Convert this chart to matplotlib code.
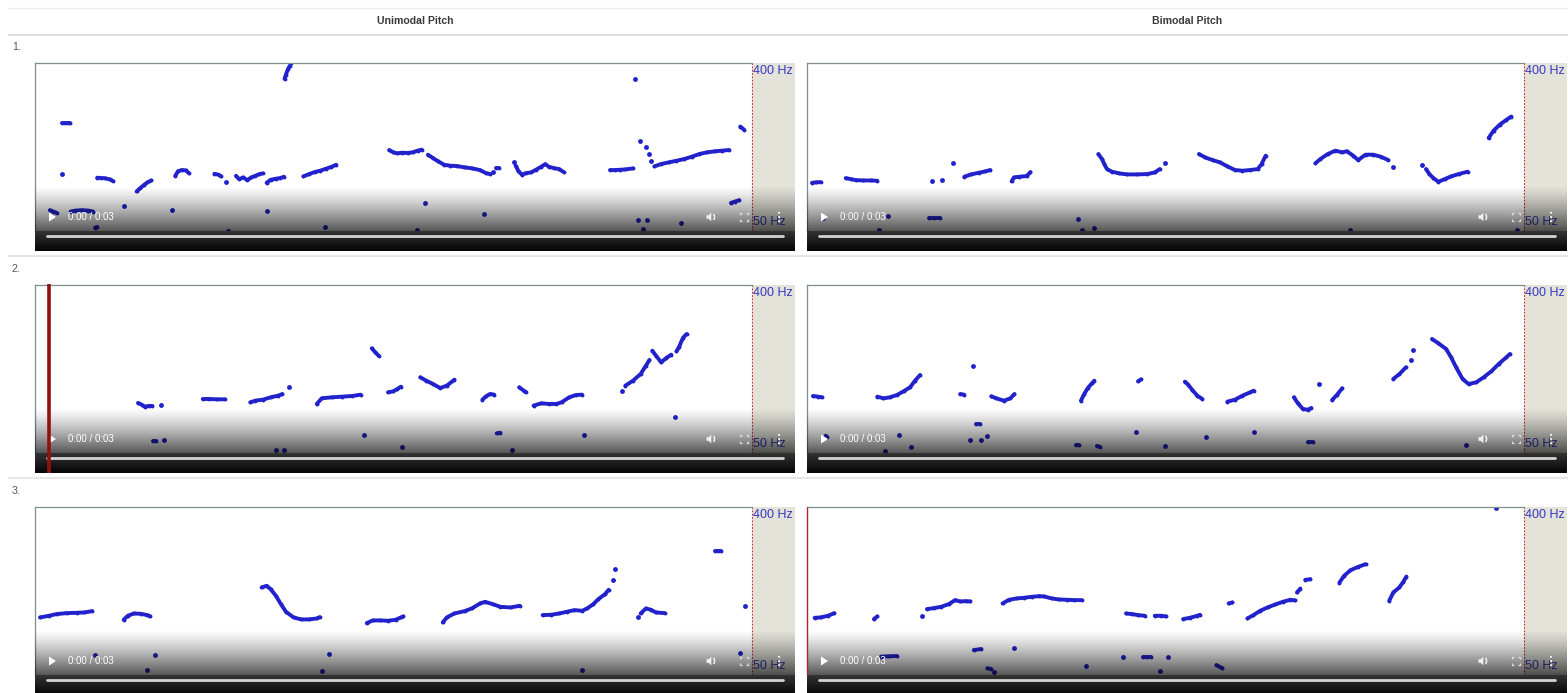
import numpy as np
import matplotlib
matplotlib.use("Agg")
import matplotlib.pyplot as plt
from matplotlib.patches import Polygon, Rectangle, Arc, Circle
from matplotlib.transforms import blended_transform_factory

plt.rcParams['font.family'] = ['Liberation Sans', 'DejaVu Sans']

# ---------------------------------------------------------------- text
columns = ["Unimodal Pitch", "Bimodal Pitch"]
row_labels = ["1.", "2.", "3."]
scale_labels = ["400 Hz", "50 Hz"]
time_label = "0:00 / 0:03"

pitch_range = [50, 400]   # Hz, bottom / top of each track
duration = 3.0            # s

# ---------------------------------------------------------------- f0 tracks
# each entry is one voiced stretch: (times in s, f0 in Hz)
uni_1 = [
    ([1.044, 1.050, 1.059, 1.065, 1.072], [367, 376, 388, 393, 399]),
    ([2.511], [366]),
    ([0.115, 0.126, 0.136, 0.147], [274, 274, 274, 274]),
    ([0.113], [169]),
    ([0.260, 0.277, 0.294, 0.312, 0.327], [161, 160.5, 159.8, 157.6, 154]),
    ([0.425, 0.440, 0.455, 0.470, 0.487], [132.3, 139.3, 145.6, 151.1, 155.3]),
    ([0.587, 0.598, 0.613, 0.630, 0.645], [165, 174.4, 177, 176.4, 170]),
    ([0.751, 0.768, 0.779], [169.3, 167.2, 163.7]),
    ([0.798], [151.8]),
    ([0.841, 0.854, 0.871, 0.888, 0.905, 0.922, 0.939, 0.952],
     [165, 158, 161.5, 156, 161.5, 165, 168.5, 170]),
    ([0.969, 0.986, 1.008, 1.025, 1.042], [150.5, 156.7, 158.9, 160.2, 163]),
    ([1.123, 1.147, 1.170, 1.193, 1.217, 1.238, 1.260],
     [163.7, 168.6, 172.8, 175.6, 179.7, 183.2, 188]),
    ([1.482, 1.499, 1.516, 1.537, 1.559, 1.580, 1.601, 1.618],
     [218.8, 213.9, 211.8, 213.2, 212.5, 213.9, 217.4, 219.5]),
    ([1.644, 1.665, 1.687, 1.712, 1.738, 1.766, 1.798, 1.830, 1.862, 1.887, 1.904],
     [209, 202, 195, 188, 186, 185.3, 182.5, 180.4, 176.9, 170.6, 168.6]),
    ([1.917], [172]),
    ([1.930, 1.943], [180.4, 180.4]),
    ([2.003], [193.6]),
    ([2.011, 2.022, 2.037, 2.054, 2.075, 2.096, 2.118, 2.135, 2.150, 2.171, 2.193, 2.212],
     [186, 175.6, 167.2, 170.6, 172, 177.6, 183.9, 189.4, 183.9, 181, 179, 172.8]),
    ([2.406, 2.427, 2.449, 2.470, 2.502], [177, 177, 177.6, 178.3, 180.4]),
    ([2.532], [236.9]), ([2.555], [224.3]), ([2.570], [210.4]), ([2.579], [196.4]),
    ([2.592, 2.619, 2.652, 2.684, 2.716, 2.748, 2.780, 2.812, 2.844, 2.876, 2.904],
     [184.6, 189.5, 193, 196.4, 199.9, 204.8, 210.4, 213.9, 216, 217.4, 218.8]),
    ([2.951, 2.968], [267.6, 260.6]),
    ([2.912, 2.929, 2.946], [108.6, 111.4, 114.2]),
    ([0.149, 0.171, 0.196, 0.222, 0.243], [90.5, 92.6, 93.3, 92.6, 90.5]),
    ([0.062, 0.077, 0.090], [93.3, 90.5, 87.8]),
    ([0.252, 0.260], [57, 58.4]),
    ([0.371], [101.6]), ([0.574], [93.3]), ([0.969], [92]), ([1.213], [58.4]),
    ([0.807], [50.5]), ([1.633], [108.6]), ([1.597], [52.9]), ([1.879], [86.3]),
    ([2.524], [73]), ([2.560], [73]), ([2.545], [54.3]), ([2.705], [66]),
]

bi_1 = [
    ([0.021, 0.036, 0.057], [150.5, 151.2, 151.9]),
    ([0.162, 0.183, 0.204, 0.235, 0.267, 0.294], [160.2, 158.1, 156, 155.3, 155.3, 154.6]),
    ([0.523], [154]), ([0.563], [156]), ([0.610], [191.6]),
    ([0.658, 0.687, 0.719, 0.746, 0.767], [163, 167.9, 171.4, 174.2, 177]),
    ([0.856, 0.866, 0.887, 0.919, 0.935], [153.3, 161.6, 163, 164.4, 172.8]),
    ([1.219, 1.234, 1.244, 1.255, 1.276, 1.307, 1.339, 1.381, 1.423, 1.455, 1.476],
     [210.4, 200, 189.5, 179, 173.5, 170, 167.9, 167.9, 168.6, 172, 179]),
    ([1.497], [190.9]),
    ([1.640, 1.665, 1.697, 1.728, 1.759, 1.791, 1.822, 1.854, 1.886, 1.902, 1.919],
     [210.4, 203.4, 197.8, 192.9, 184.6, 177, 175.6, 177, 179, 189.5, 206.9]),
    ([2.127, 2.148, 2.179, 2.211, 2.238, 2.259, 2.285, 2.306, 2.337, 2.369, 2.401, 2.432],
     [190.9, 200, 210.4, 217.4, 213.9, 216, 207, 197.8, 209, 209, 204.8, 197.8]),
    ([2.453], [182.5]),
    ([2.575], [188.1]),
    ([2.590, 2.604, 2.621, 2.642, 2.668, 2.695, 2.726, 2.764],
     [179, 168.6, 160.2, 152.6, 158.1, 163.7, 168.6, 173.5]),
    ([2.852, 2.873, 2.899, 2.926, 2.947], [243.9, 259.2, 271.8, 281.5, 288.5]),
    ([0.067], [76.6]), ([0.303], [52.9]), ([0.338], [80.8]),
    ([0.509, 0.530, 0.557], [76.6, 76.6, 76.6]),
    ([1.135], [74.5]), ([1.150], [51.5]), ([1.202], [55.7]),
    ([2.274], [51.5]), ([2.970], [51.5]),
]

uni_2 = [
    ([0.431, 0.446, 0.459, 0.476, 0.491], [154.3, 150.8, 146.6, 148, 148]),
    ([0.529], [150.8]),
    ([0.702, 0.730, 0.762, 0.794], [162.5, 162.5, 161.8, 161.8]),
    ([0.901, 0.922, 0.954, 0.986, 1.018, 1.035], [155.6, 159.1, 161.2, 166, 169.5, 172.9]),
    ([1.061], [186.8]),
    ([1.179, 1.200, 1.243, 1.285, 1.328, 1.362], [152.2, 164, 166, 167.4, 168.8, 171.5]),
    ([1.409, 1.424, 1.439], [268, 259.7, 252]),
    ([1.477, 1.499, 1.516, 1.531], [176.4, 178.5, 183.4, 188.2]),
    ([1.612, 1.637, 1.665, 1.695, 1.723, 1.755], [207.7, 200.7, 193.8, 185.4, 190.3, 202.8]),
    ([1.872, 1.887, 1.904, 1.921], [161.2, 168.1, 173, 171.6]),
    ([2.026, 2.045, 2.055], [186.8, 179.9, 176.4]),
    ([2.086, 2.118, 2.150, 2.182, 2.203, 2.235, 2.263, 2.289],
     [148.7, 153.5, 152.2, 152.2, 155.6, 166, 170.8, 171.6]),
    ([2.455], [178.5]),
    ([2.470, 2.502, 2.534, 2.556, 2.571], [190.3, 200.7, 214.6, 231.9, 243.8]),
    ([2.583, 2.598, 2.620, 2.641, 2.662], [263.2, 252.8, 238.9, 247.9, 254.9]),
    ([2.684, 2.694, 2.711, 2.726], [261.8, 270.1, 289.6, 297.9]),
    ([2.677], [124.3]),
    ([0.495, 0.506], [75.7, 75.7]), ([0.538], [77.1]),
    ([1.008], [56.3]), ([1.040], [57]), ([1.377], [87.5]), ([1.535], [63.2]),
    ([1.932, 1.947], [90.9, 92.3]), ([1.996], [56.3]), ([2.299], [88.2]),
]

bi_2 = [
    ([0.025, 0.046, 0.063], [168.8, 167.4, 166]),
    ([0.294, 0.320, 0.347, 0.376, 0.404, 0.431, 0.452, 0.473],
     [167.4, 163.9, 166, 170.8, 178.5, 186.8, 200.7, 212.5]),
    ([0.696], [230.6]),
    ([0.641, 0.658], [172.9, 171.5]),
    ([0.771, 0.792, 0.824, 0.851, 0.868], [168.1, 163.9, 159, 163.9, 172.9]),
    ([1.146, 1.160, 1.175, 1.192, 1.202], [159, 172.9, 185.4, 195.1, 200.7]),
    ([1.385, 1.398], [199.3, 203.5]),
    ([1.581, 1.595, 1.612, 1.633, 1.654], [198.6, 192.4, 181.3, 169.5, 162.5]),
    ([1.759, 1.791, 1.822, 1.854, 1.869], [157, 161.2, 169.5, 176.4, 179.9]),
    ([2.037, 2.054, 2.075, 2.096, 2.110], [166, 153.5, 141.7, 140.3, 143.8]),
    ([2.144], [193.8]),
    ([2.197, 2.218, 2.239], [160.4, 171.5, 184.7]),
    ([2.453, 2.479, 2.506], [204.2, 214.6, 228.5]),
    ([2.527], [243.8]), ([2.537], [264.6]),
    ([2.615, 2.642, 2.674, 2.695, 2.716, 2.743, 2.768, 2.800, 2.831, 2.863, 2.894, 2.926, 2.941],
     [287.5, 278.5, 266.7, 249.3, 228.5, 204.2, 193.8, 197.2, 207.6, 220.1, 235.4, 249.3, 256.3]),
    ([0.078, 0.084], [86.1, 82.7]), ([0.383], [87.5]), ([0.326], [54.9]), ([0.435], [61.8]),
    ([0.708, 0.725], [110.4, 110.4]), ([0.683], [77.8]), ([0.729], [77.1]), ([0.755], [86.1]),
    ([1.125, 1.137], [66, 66]), ([1.213, 1.225], [64.6, 63.2]), ([1.377], [93]),
    ([1.499], [64.6]), ([1.669], [82.7]), ([1.871], [93]),
    ([2.096, 2.117], [72.9, 72.9]), ([2.758], [66.7]),
]

uni_3 = [
    ([0.021, 0.058, 0.090, 0.132, 0.175, 0.207, 0.239],
     [169.9, 173.4, 176.9, 178.9, 179.6, 180.3, 183.1]),
    ([0.371, 0.388, 0.414, 0.442, 0.470, 0.482], [165, 173.4, 178.2, 177.5, 174.8, 172]),
    ([0.948, 0.969, 0.986, 1.008, 1.029, 1.050, 1.082, 1.114, 1.146, 1.179, 1.191],
     [232.3, 235.8, 228.8, 215, 197.6, 181.7, 169.9, 165.8, 165.8, 167.8, 170.6]),
    ([1.388, 1.413, 1.445, 1.477, 1.509, 1.531, 1.541],
     [158.1, 163.7, 163.7, 163, 165.1, 169.9, 172]),
    ([1.706, 1.723, 1.755, 1.798, 1.830, 1.862, 1.883, 1.915, 1.947, 1.990, 2.028],
     [159.5, 169.9, 178.2, 183.1, 189.3, 199, 202.5, 197.6, 192.1, 190.7, 194.2]),
    ([2.124, 2.161, 2.193, 2.225, 2.257, 2.289, 2.310, 2.336, 2.357, 2.385, 2.400],
     [174.8, 175.5, 178.2, 181.7, 185.2, 183.8, 188.6, 197.6, 208, 218.4, 227.4]),
    ([2.417], [248.2]), ([2.428], [270.4]),
    ([2.524], [169.9]),
    ([2.534, 2.556, 2.577, 2.598, 2.635], [178.2, 188.6, 185.9, 180.3, 178.9]),
    ([2.844, 2.857, 2.870], [308.5, 308.5, 308.5]),
    ([2.972], [192.8]),
    ([0.250], [92.3]), ([0.500], [92.3]), ([0.470], [61.1]), ([1.232], [93.7]),
    ([1.200], [57.7]), ([2.289], [61.1]), ([2.951], [95.8]),
]

bi_3 = [
    ([0.032, 0.057, 0.088, 0.114], [169.2, 169.9, 173.4, 178.9]),
    ([0.280, 0.294], [166.5, 172]),
    ([0.483], [172]),
    ([0.502, 0.530, 0.561, 0.593, 0.620, 0.641, 0.666, 0.683],
     [187.3, 189.3, 192.1, 197.6, 206, 203.2, 203.9, 203.2]),
    ([0.818, 0.845, 0.877, 0.908, 0.940, 0.971, 0.992, 1.024, 1.055, 1.087, 1.118, 1.150],
     [199, 206.7, 209.5, 210.9, 212.9, 214.3, 213.6, 209.5, 207.3, 206.7, 206, 206]),
    ([1.335, 1.360, 1.385, 1.413], [178.2, 176.9, 174.8, 173.4]),
    ([1.455, 1.482, 1.503], [173.4, 173.4, 172]),
    ([1.574, 1.602, 1.633, 1.644], [166.5, 169.2, 173.4, 175.5]),
    ([1.764, 1.780], [199, 201.1]),
    ([1.843, 1.868, 1.896, 1.927, 1.959, 1.991, 2.022, 2.043],
     [167.8, 174.8, 183.8, 190.7, 196.9, 202.5, 206.7, 205.3]),
    ([2.050, 2.064], [221.9, 230.2]),
    ([2.085, 2.106], [248.2, 249.6]),
    ([2.228, 2.247, 2.274, 2.306, 2.337], [242.7, 256.6, 268.3, 275.3, 280.8]),
    ([2.436, 2.453, 2.478, 2.495, 2.508], [204.6, 221.9, 232.3, 244.1, 255.2]),
    ([2.884], [397.2]),
    ([0.309, 0.341, 0.376], [88.2, 88.9, 89.5]), ([0.698, 0.729], [102, 104.1]),
    ([0.755, 0.771], [63.9, 62.5]), ([0.782], [55.6]), ([0.866], [105.5]),
    ([1.167], [69.4]), ([1.324], [88.2]), ([1.406, 1.423, 1.440], [86.8, 86.8, 86.8]),
    ([1.511], [86.8]), ([1.476], [59.1]), ([1.713, 1.738], [70.8, 63.9]),
]

tracks = [[uni_1, bi_1], [uni_2, bi_2], [uni_3, bi_3]]
# playback cursor position per clip (s); None = not shown
playheads = [[None, None], [0.058, None], [None, 0.0]]

# ---------------------------------------------------------------- layout (px)
W, H = 1568, 693
ROW_TOP = [63, 285, 507]
COL_X = [35, 807]
COL_CENTER = [415, 1187]
PLOT_W, PLOT_H = 717, 168
VIDEO_W = 760
BAR_H = 20
FADE_H = 46

DOT = '#2222cc'
LABEL_BLUE = '#3838c4'

fig = plt.figure(figsize=(W / 100, H / 100), dpi=100)
fig.patch.set_facecolor('white')


def pixel_axes(z):
    a = fig.add_axes([0, 0, 1, 1], zorder=z)
    a.set_xlim(0, W)
    a.set_ylim(H, 0)
    a.axis('off')
    a.patch.set_alpha(0)
    return a


bg = pixel_axes(0)
fg = pixel_axes(3)

# table rules and headers
for y, c, lw in [(8, '#ececec', 1.0), (35, '#dedede', 1.4), (256, '#e6e6e6', 1.6),
                 (478, '#e6e6e6', 1.6)]:
    bg.plot([8, W], [y, y], color=c, lw=lw, solid_capstyle='butt')
for name, cx in zip(columns, COL_CENTER):
    bg.text(cx, 21, name, ha='center', va='center', fontsize=7.6,
            fontweight='bold', color='#3a3a3a')
for lab, y0 in zip(row_labels, ROW_TOP):
    bg.text(12, y0 - 16, lab, ha='left', va='center', fontsize=7.6, color='#555555')

fade = np.zeros((64, 1, 4))
fade[:, 0, 3] = 0.66 * np.linspace(0, 1, 64) ** 1.25
bar = np.zeros((32, 1, 4))
bar[:, 0, :3] = np.linspace(0.2, 0.02, 32)[:, None]
bar[:, 0, 3] = 1.0

for r, y0 in enumerate(ROW_TOP):
    for c, x0 in enumerate(COL_X):
        ax = fig.add_axes([x0 / W, 1 - (y0 + PLOT_H) / H, PLOT_W / W, PLOT_H / H], zorder=1)
        ax.set_xlim(0, duration)
        ax.set_ylim(*pitch_range)
        ax.patch.set_alpha(0)
        ax.set_xticks([])
        ax.set_yticks([])
        for side in ('bottom', 'right'):
            ax.spines[side].set_visible(False)
        for side in ('top', 'left'):
            ax.spines[side].set_color('#7f8f8f')
            ax.spines[side].set_linewidth(0.9)
        ax.axvline(duration, color='#d42a2a', lw=0.8, ls=(0, (1.5, 1.5)), clip_on=False)

        for t, f0 in tracks[r][c]:
            if len(t) > 1:
                ax.plot(t, f0, '-', color=DOT, lw=2.8, marker='o', ms=2.8, mew=0,
                        solid_capstyle='round', solid_joinstyle='round')
            else:
                ax.plot(t, f0, 'o', color=DOT, ms=3.5, mew=0)

        # scale strip to the right of the track
        bg.add_patch(Rectangle((x0 + PLOT_W, y0), VIDEO_W - PLOT_W, PLOT_H,
                               facecolor='#e3e3da', edgecolor='none'))
        bg.text(x0 + PLOT_W + 1.5, y0 + 7.5, scale_labels[0], ha='left', va='center',
                fontsize=9, color=LABEL_BLUE)
        bg.text(x0 + PLOT_W + 1.5, y0 + 159, scale_labels[1], ha='left', va='center',
                fontsize=9, color=LABEL_BLUE)

        # player overlay: fade, control bar, icons
        fg.imshow(fade, extent=(x0, x0 + VIDEO_W, y0 + PLOT_H, y0 + PLOT_H - FADE_H),
                  origin='upper', aspect='auto', interpolation='bilinear')
        fg.imshow(bar, extent=(x0, x0 + VIDEO_W, y0 + PLOT_H + BAR_H, y0 + PLOT_H),
                  origin='upper', aspect='auto', interpolation='bilinear')
        fg.plot([x0 + 12, x0 + 748], [y0 + 173, y0 + 173], color='#d2d2d2', lw=2.0,
                solid_capstyle='round')
        cy = y0 + 154
        px = x0 + 14
        fg.add_patch(Polygon([(px, cy - 4.5), (px, cy + 4.5), (px + 7, cy)],
                             closed=True, facecolor='white', edgecolor='none'))
        fg.text(x0 + 33, cy, time_label, ha='left', va='center', fontsize=7, color='white')
        vx = x0 + 676
        icon = '#f0f0f0'
        fg.add_patch(Polygon([(vx - 4.5, cy - 1.8), (vx - 2.3, cy - 1.8), (vx + 0.3, cy - 4.3),
                              (vx + 0.3, cy + 4.3), (vx - 2.3, cy + 1.8), (vx - 4.5, cy + 1.8)],
                             closed=True, facecolor=icon, edgecolor='none'))
        fg.add_patch(Arc((vx + 0.8, cy), 5.5, 7.5, theta1=-60, theta2=60, color=icon, lw=1.1))
        fx_ = x0 + 709
        d, k = 3.8, 2.0
        for sx in (-1, 1):
            for sy in (-1, 1):
                fg.plot([fx_ + sx * d, fx_ + sx * d, fx_ + sx * (d - k)],
                        [cy + sy * (d - k), cy + sy * d, cy + sy * d],
                        color='#dcdcdc', lw=0.9, solid_capstyle='butt')
        kx = x0 + 744
        for dy in (-4.2, 0, 4.2):
            fg.add_patch(Circle((kx, cy + dy), 1.0, facecolor='white', edgecolor='none'))

        ph = playheads[r][c]
        if ph is not None:
            tr = blended_transform_factory(ax.transData, fg.transData)
            if ph > 0:
                fg.plot([ph, ph], [y0 - 1, y0 + PLOT_H + BAR_H], transform=tr,
                        color='#8e1212', lw=2.6, solid_capstyle='butt')
            else:
                fg.plot([ph, ph], [y0, y0 + PLOT_H], transform=tr,
                        color='#c02020', lw=0.9, solid_capstyle='butt')

fg.set_xlim(0, W)
fg.set_ylim(H, 0)

fig.savefig('out.png', dpi=100)
